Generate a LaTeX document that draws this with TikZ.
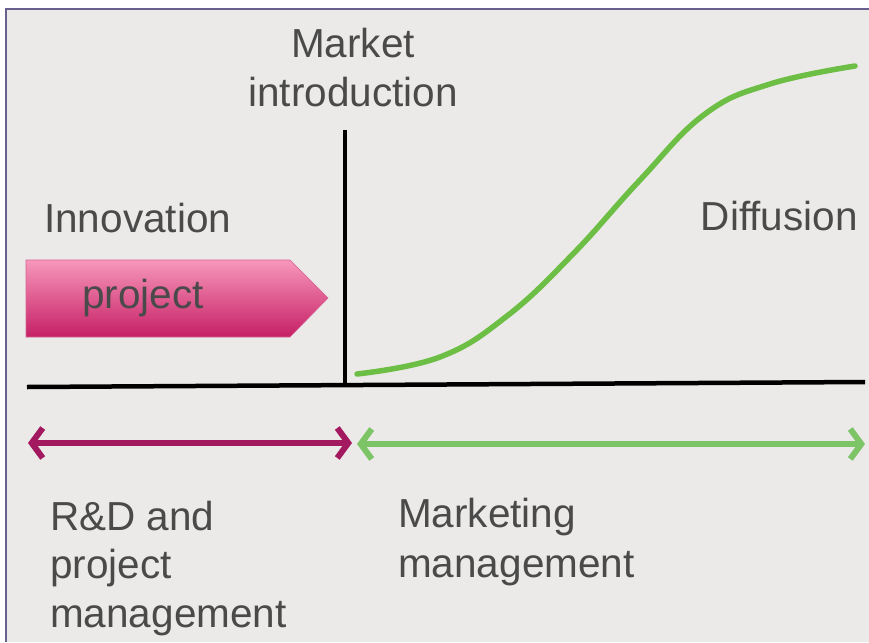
\documentclass[tikz,border=0pt]{standalone}
\usepackage{fontspec}
\setmainfont{Liberation Sans}
\usetikzlibrary{arrows.meta}
\definecolor{bggray}{HTML}{EBEAE8}
\definecolor{framec}{HTML}{6A6090}
\definecolor{txtgray}{HTML}{4A4A4A}
\definecolor{pinktop}{HTML}{F797BA}
\definecolor{pinkbot}{HTML}{C61F66}
\definecolor{magentac}{HTML}{A3195F}
\definecolor{greenc}{HTML}{6DBE45}
\definecolor{lgreen}{HTML}{7CC466}
\tikzset{
  lbl/.style={inner sep=0pt, text=txtgray, font=\fontsize{40.5}{49}\selectfont},
  axisline/.style={line width=4.5pt, black},
  spanarrow/.style={line width=5.5pt, {Straight Barb[length=11pt,width=30pt,line width=6pt]}-{Straight Barb[length=11pt,width=30pt,line width=6pt]}}
}
\begin{document}
\begin{tikzpicture}[x=1pt,y=-1pt]
\useasboundingbox (0,0) rectangle (869,642);
% frame and background
\fill[white] (0,0) rectangle (869,642);
\fill[bggray] (6,9) rectangle (869,642);
\draw[framec, line width=1.2pt] (6,642) -- (6,9) -- (869,9);

% project arrow
\shade[top color=pinktop, bottom color=pinkbot, draw=pinkbot!70!white, line width=0.6pt]
  (26,260) -- (290,260) -- (328,298) -- (290,337) -- (26,337) -- cycle;
\node[lbl, anchor=base] (proj) at (143,308) {project};

% axes
\coordinate (axL) at (27,387);
\coordinate (axR) at (865,382);
\coordinate (vtop) at (345,130);
\coordinate (vbot) at (345,386);
\draw[axisline] (axL) -- (axR);
\draw[axisline, line width=4pt] (vtop) -- (vbot);

% diffusion curve
\draw[greenc, line width=5.5pt, line cap=round] plot[smooth, tension=0.7] coordinates {
 (357,374) (440,357) (507,316) (573,254) (640,180) (705,114) (770,84) (855,66)};

% labels
\node[lbl, anchor=base] (mi1) at (353,57) {Market};
\node[lbl, anchor=base] (mi2) at (353,106) {introduction};
\node[lbl, anchor=base west] (inno) at (44,232) {Innovation};
\node[lbl, anchor=base east] (diff) at (858,230) {Diffusion};

% span arrows
\coordinate (mL) at (28,443);
\coordinate (mR) at (352,443);
\coordinate (gL) at (357,444);
\coordinate (gR) at (865,444);
\draw[spanarrow, magentac] (mL) -- (mR);
\draw[spanarrow, lgreen] (gL) -- (gR);

% bottom labels
\node[lbl, anchor=base west] (rd1) at (50,530) {R\&D and};
\node[lbl, anchor=base west] (rd2) at (50,578) {project};
\node[lbl, anchor=base west] (rd3) at (50,627) {management};
\node[lbl, anchor=base west] (mk1) at (398,527) {Marketing};
\node[lbl, anchor=base west] (mk2) at (398,577) {management};
\end{tikzpicture}
\end{document}
